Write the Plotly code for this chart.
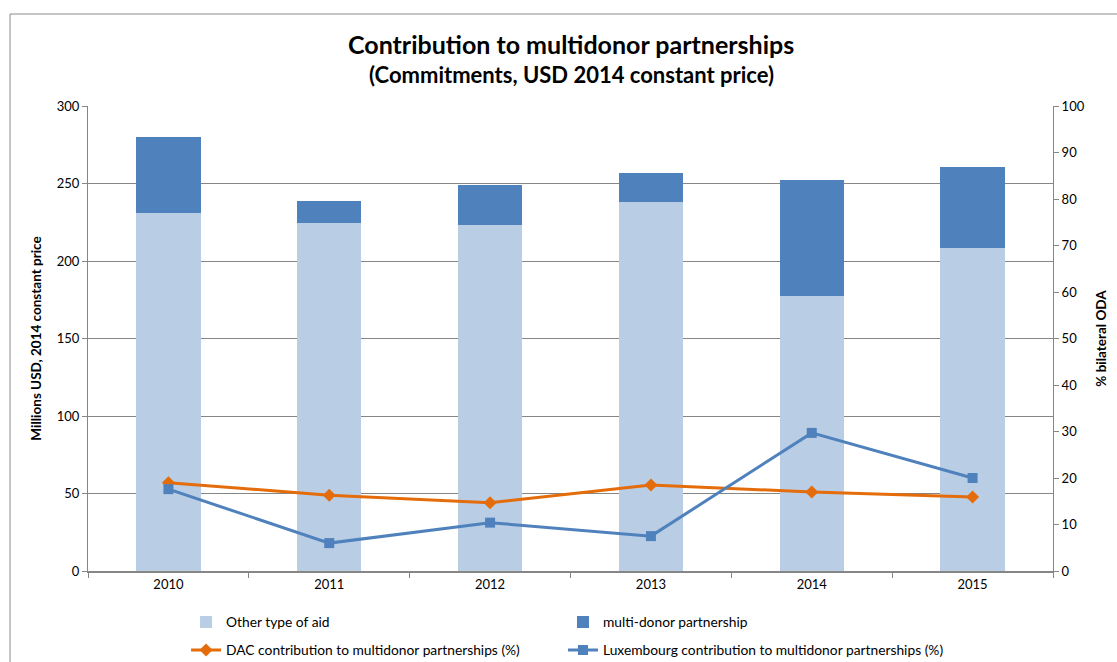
import plotly.graph_objects as go

years = ["2010", "2011", "2012", "2013", "2014", "2015"]
other_aid = [231, 224.5, 223, 238, 177.7, 208.4]
multidonor = [49, 14, 26, 19, 74.4, 52]
dac_pct = [19.0, 16.3, 14.7, 18.5, 17.0, 15.9]
lux_pct = [17.6, 6.0, 10.4, 7.5, 29.7, 20.0]

FONT = "Lato, 'Open Sans', sans-serif"
GRID = "#868686"

fig = go.Figure()
fig.add_trace(go.Bar(x=years, y=other_aid, name="Other type of aid", legend="legend",
                     marker=dict(color="#B9CDE5", line=dict(width=0)), width=0.4))
fig.add_trace(go.Bar(x=years, y=multidonor, name="multi-donor partnership", legend="legend2",
                     marker=dict(color="#4F81BD", line=dict(width=0)), width=0.4))
fig.add_trace(go.Scatter(x=years, y=dac_pct, yaxis="y2", mode="lines+markers", legend="legend3",
                         name="DAC contribution to multidonor partnerships (%)",
                         line=dict(color="#E46C0A", width=3),
                         marker=dict(symbol="diamond", size=10, color="#E46C0A")))
fig.add_trace(go.Scatter(x=years, y=lux_pct, yaxis="y2", mode="lines+markers", legend="legend4",
                         name="Luxembourg contribution to multidonor partnerships (%)",
                         line=dict(color="#4F81BD", width=3),
                         marker=dict(symbol="square", size=10, color="#4F81BD")))

legend_common = dict(
    orientation="h", xanchor="left", yanchor="middle",
    font=dict(size=13.8), itemwidth=30, bgcolor="rgba(0,0,0,0)",
)
col1_x, col2_x = 0.1016, 0.4922
row1_y, row2_y = -0.1097, -0.1699

fig.update_layout(
    width=1117, height=662,
    margin=dict(l=88, r=64, t=106, b=91, autoexpand=False),
    paper_bgcolor="white", plot_bgcolor="white",
    barmode="stack",
    showlegend=True,
    font=dict(family=FONT, size=13, color="#000000"),
    xaxis=dict(
        type="category", showgrid=False, showline=True, linecolor=GRID, linewidth=2,
        ticks="outside", tickson="boundaries", ticklen=5, tickcolor=GRID,
        tickfont=dict(size=13),
    ),
    yaxis=dict(
        range=[0, 300], dtick=50, showgrid=True, gridcolor=GRID, gridwidth=1,
        showline=True, linecolor=GRID, ticks="outside", ticklen=5, tickcolor=GRID,
        zeroline=False, tickfont=dict(size=13),
        title=dict(text="<b>Millions USD, 2014 constant price</b>", font=dict(size=13.5), standoff=12),
    ),
    yaxis2=dict(
        range=[0, 100], dtick=10, overlaying="y", side="right", showgrid=False,
        showline=True, linecolor=GRID, ticks="outside", ticklen=5, tickcolor=GRID,
        zeroline=False, tickfont=dict(size=13),
        title=dict(text="<b>% bilateral ODA</b>", font=dict(size=13.5), standoff=12),
    ),
    legend=dict(legend_common, x=col1_x, y=row1_y, visible=True),
    legend2=dict(legend_common, x=col2_x, y=row1_y),
    legend3=dict(legend_common, x=col1_x, y=row2_y),
    legend4=dict(legend_common, x=col2_x, y=row2_y),
    annotations=[
        dict(text="<b>Contribution to multidonor partnerships</b>", xref="paper", yref="paper",
             x=0.501, y=1.133, xanchor="center", yanchor="middle", showarrow=False,
             font=dict(family=FONT, size=25, color="#000000")),
        dict(text="<b>(Commitments, USD 2014 constant price)</b>", xref="paper", yref="paper",
             x=0.501, y=1.0667, xanchor="center", yanchor="middle", showarrow=False,
             font=dict(family=FONT, size=22, color="#000000")),
    ],
    shapes=[dict(type="rect", xref="paper", yref="paper",
                 x0=-0.0808, x1=1.2, y0=-0.4, y1=1.1978,
                 line=dict(color="#8C8C8C", width=1), fillcolor="rgba(0,0,0,0)", layer="below")],
)

fig.write_html("out.html")
